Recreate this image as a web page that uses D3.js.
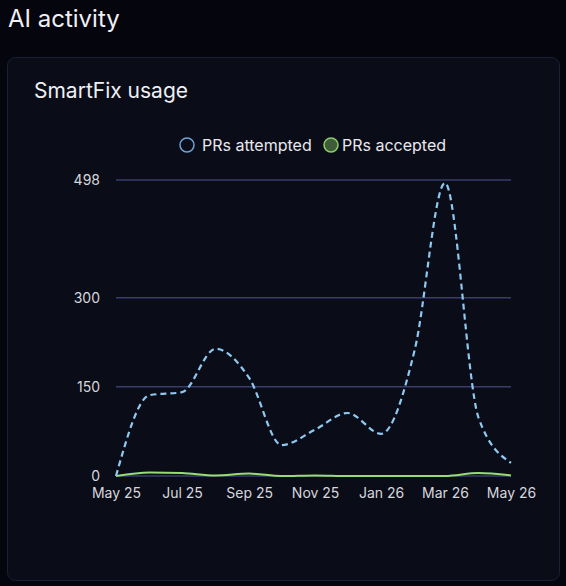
<!DOCTYPE html>
<html>
<head>
<meta charset="utf-8">
<script src="https://cdn.jsdelivr.net/npm/d3@7"></script>
<style>
  html, body { margin: 0; padding: 0; background: #04050d; }
  body { width: 566px; height: 586px; overflow: hidden; font-family: Inter, "Noto Sans", sans-serif; }
</style>
</head>
<body>
<svg id="chart" width="566" height="586"></svg>
<script>
const months = ["2025-05","2025-06","2025-07","2025-08","2025-09","2025-10","2025-11","2025-12","2026-01","2026-02","2026-03","2026-04","2026-05"];
const prsAttempted = [0, 136, 141, 214, 165, 52, 78, 106, 71, 212, 493, 98, 22];
const prsAccepted = [0, 6, 5, 1, 4, 0, 1, 0, 0, 0, 0, 5, 1];
const yTicks = [0, 150, 300, 498];
const seriesNames = ["PRs attempted", "PRs accepted"];

const parse = d3.timeParse("%Y-%m");
const dates = months.map(parse);

const svg = d3.select("#chart");

// page title
svg.append("text").attr("x", 8).attr("y", 27)
  .attr("fill", "#f0f0f4").attr("font-size", 24).attr("font-weight", 400)
  .text("AI activity");

// card
svg.append("rect").attr("x", 7.5).attr("y", 57.5).attr("width", 552).attr("height", 523)
  .attr("rx", 8).attr("fill", "#0a0c17").attr("stroke", "#1c2036").attr("stroke-width", 1);

svg.append("text").attr("x", 34).attr("y", 98)
  .attr("fill", "#f0f0f4").attr("font-size", 21).attr("font-weight", 400)
  .text("SmartFix usage");

const x = d3.scaleTime().domain([dates[0], dates[dates.length - 1]]).range([116, 511]);
const y = d3.scaleLinear().domain([0, 498]).range([476, 180]);

// gridlines
const grid = svg.append("g");
grid.selectAll("line").data(yTicks).join("line")
  .attr("x1", x.range()[0]).attr("x2", x.range()[1])
  .attr("y1", d => y(d)).attr("y2", d => y(d))
  .attr("stroke", "#3a3d6c").attr("stroke-width", 1.5);

// y axis
const yAxis = svg.append("g").attr("transform", "translate(116,0)")
  .call(d3.axisLeft(y).tickValues(yTicks).tickSize(0).tickPadding(16));
yAxis.select(".domain").remove();
yAxis.selectAll("text").attr("fill", "#d6d7de").attr("font-size", 14).attr("font-family", "Inter, sans-serif");

// x axis
const xAxis = svg.append("g").attr("transform", "translate(0,476)")
  .call(d3.axisBottom(x).ticks(d3.timeMonth.every(2)).tickFormat(d3.timeFormat("%b %y")).tickSize(0).tickPadding(12));
xAxis.select(".domain").remove();
xAxis.selectAll("text").attr("fill", "#d6d7de").attr("font-size", 14).attr("font-family", "Inter, sans-serif");

const line = d3.line().x((d, i) => x(dates[i])).y(d => y(d)).curve(d3.curveMonotoneX);

svg.append("path").datum(prsAccepted).attr("d", line)
  .attr("fill", "none").attr("stroke", "#98dc78").attr("stroke-width", 2);

svg.append("path").datum(prsAttempted).attr("d", line)
  .attr("fill", "none").attr("stroke", "#8ec9f2").attr("stroke-width", 2.2)
  .attr("stroke-dasharray", "6,4");

// legend
const legend = svg.append("g");
const l1 = legend.append("g").attr("transform", "translate(187,145)");
l1.append("circle").attr("r", 7).attr("fill", "none").attr("stroke", "#6fa3d6").attr("stroke-width", 1.5);
l1.append("text").attr("x", 15).attr("y", 6).attr("fill", "#e8e8ee").attr("font-size", 16).text(seriesNames[0]);
const l2 = legend.append("g").attr("transform", "translate(331,145)");
l2.append("circle").attr("r", 7).attr("fill", "#3e5c38").attr("stroke", "#8ccc6c").attr("stroke-width", 1.5);
l2.append("text").attr("x", 11).attr("y", 6).attr("fill", "#e8e8ee").attr("font-size", 16).text(seriesNames[1]);
</script>
</body>
</html>
